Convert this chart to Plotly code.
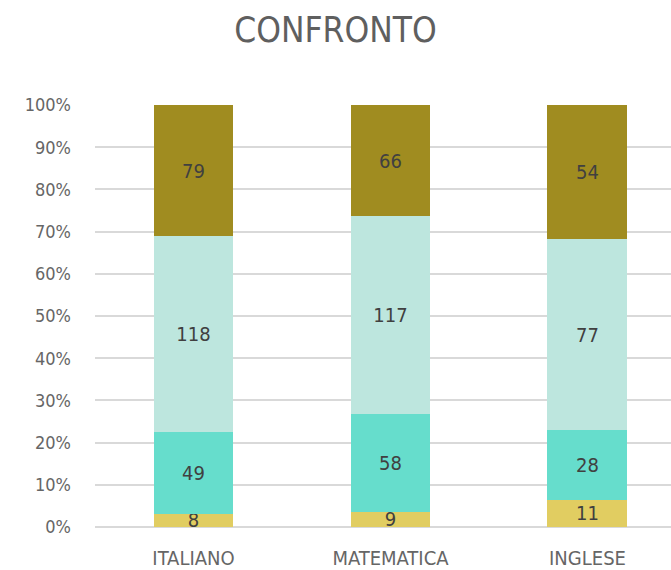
import plotly.graph_objects as go

materie = ['ITALIANO', 'MATEMATICA', 'INGLESE']
serie_a = [8, 9, 11]
serie_b = [49, 58, 28]
serie_c = [118, 117, 77]
serie_d = [79, 66, 54]

colori = ['#E1CD61', '#66DDCC', '#BDE6DE', '#A08C20']
font_cond = 'Liberation Sans Narrow, DejaVu Sans Condensed, Arial Narrow, sans-serif'

W, H = 671, 570

fig = go.Figure()
for vals, col in zip([serie_a, serie_b, serie_c, serie_d], colori):
    fig.add_trace(go.Bar(
        x=materie, y=vals, marker_color=col, marker_line_width=0,
        text=vals, textposition='inside', insidetextanchor='middle',
        constraintext='none', textangle=0,
        textfont=dict(family=font_cond, size=20, color='#404040'),
        hoverinfo='y'))

fig.update_layout(
    barmode='stack', barnorm='percent', bargap=0.594,
    width=W, height=H, showlegend=False,
    plot_bgcolor='white', paper_bgcolor='white',
    margin=dict(l=95, r=0, t=105, b=43),
    title=dict(text='CONFRONTO', x=0.5, xanchor='center', y=1 - 30 / H,
               yanchor='middle', yref='container',
               font=dict(family=font_cond, size=35, color='#5F5F5F')),
    font=dict(family=font_cond, color='#5F5F5F'),
)
fig.update_xaxes(range=[-0.5, 2.424], showgrid=False, showline=False,
                 ticks='', ticklabelstandoff=17,
                 tickfont=dict(size=20, color='#666666'))
fig.update_yaxes(range=[0, 100], dtick=10, ticksuffix='%', showgrid=True,
                 gridcolor='#D9D9D9', gridwidth=1.5, zeroline=True,
                 zerolinecolor='#D9D9D9', zerolinewidth=1.5, showline=False,
                 ticklabelstandoff=23,
                 tickfont=dict(size=18, color='#666666'))

# drop the browser's default body margin so the figure fills the window
fig.write_html('out.html', config={'displayModeBar': False},
               post_script="document.body.style.margin='0';")
